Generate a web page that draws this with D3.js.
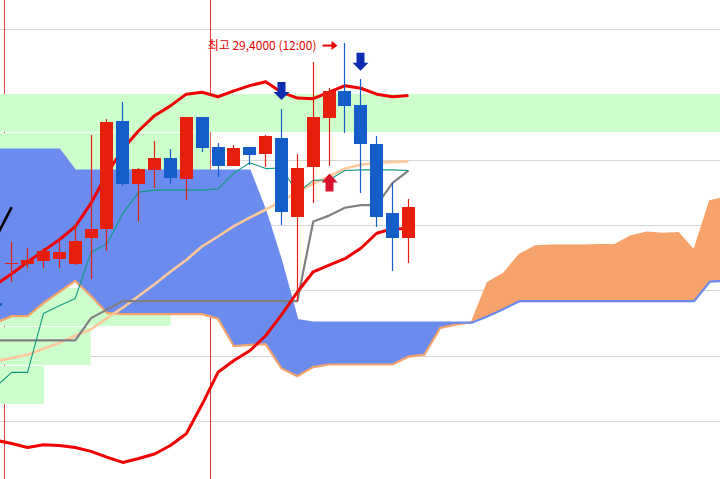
<!DOCTYPE html>
<html><head><meta charset="utf-8">
<script src="https://cdn.jsdelivr.net/npm/d3@7"></script>
<style>html,body{margin:0;padding:0;background:#fff;overflow:hidden}</style>
</head><body><svg id="c" width="720" height="479"></svg>
<script>
// ---- Data (candle index -1 .. 25; red = up, blue = down) ----
const firstIndex = -1;
const opens  = [29001,29062,29061,29066,29068,29061,29100,29115,29280,29183,29205,29223,29191,29286,29240,29211,29240,29230,29254,29133,29210,29285,29326,29304,29245,29139,29101];
const highs  = [29004,29094,29085,29085,29101,29121,29258,29283,29309,29208,29249,29237,29286,29286,29246,29243,29240,29258,29299,29229,29370,29330,29400,29344,29257,29185,29160];
const lows   = [28994,29033,29055,29054,29054,29059,29038,29081,29180,29126,29177,29183,29159,29232,29194,29211,29213,29210,29121,29004,29154,29211,29262,29169,29118,29050,29062];
const closes = [28997,29062,29067,29081,29079,29096,29115,29278,29183,29206,29223,29193,29286,29239,29211,29239,29228,29257,29140,29208,29286,29326,29303,29244,29133,29101,29148];

// Bollinger bands / moving average / Ichimoku lines (index -1 .. 25)
const upperBand = [29029,29046,29064,29081,29098,29118,29154,29199,29237,29265,29288,29303,29321,29324,29317,29326,29334,29340,29324,29315,29314,29324,29334,29330,29321,29317,29319];
const lowerBand = [28791,28786,28780,28784,28783,28780,28774,28765,28757,28763,28770,28783,28801,28846,28895,28913,28928,28951,28983,29018,29049,29059,29069,29085,29108,29115,29115];
const maLine    = [28912,28917,28922,28931,28940,28951,28961,28978,28994,29012,29030,29049,29067,29088,29103,29119,29132,29144,29157,29171,29184,29195,29207,29213,29216,29217,29218];
const convLine  = [28873,28895,28895,28985,28997,29008,29079,29092,29138,29171,29174,29174,29174,29174,29176,29200,29216,29207,29208,29170,29189,29190,29204,29205,29205,29205,29204];
const baseLine  = [28944,28944,28944,28944,28944,28944,28978,28991,29004,29004,29004,29004,29004,29004,29004,29004,29004,29004,29004,29004,29126,29135,29147,29151,29151,29185,29204];
const lagShift = 25;

// Leading spans (index -1 .. 45)
const spanA = [29236,29236,29236,29236,29236,29204,29204,29204,29204,29204,29204,29204,29204,29204,29204,29204,29204,29141,29064,28975,28971,28971,28971,28971,28971,28971,28971,28971,28971,28971,28971,28981,28992,29004,29004,29004,29004,29004,29004,29004,29004,29004,29004,29004,29004,29034,29035];
const spanB = [28971,28981,28981,29001,29018,29035,29012,28986,28984,28984,28984,28984,28984,28984,28977,28935,28937,28938,28901,28889,28903,28907,28907,28907,28907,28907,28919,28922,28963,28968,28972,29032,29046,29075,29088,29089,29089,29089,29090,29090,29103,29109,29107,29108,29081,29157,29162];

// Volume profile (top band first), relative volume
const profileTop = 29321, profileBottom = 28845;
const profileVolumes = [100, 29.2, 22, 15, 6, 23.7, 12.6, 6.1];

const gridPrices = [29420, 29320, 29220, 29120, 29020, 28920, 28820];
const dayBreaks = [-0.5, 12.5];
const sellSignals = [17, 22];
const buySignals = [20];
const highIndex = 21;
const highLabel = "최고 29,4000 (12:00)";

// ---- Drawing ----
const W = 720, H = 479;
const svg = d3.select("#c");
const x = d3.scaleLinear().domain([-0.737, 44.63]).range([0, W]);
const y = d3.scaleLinear().domain([29420, 28820]).range([29.5, 421.3]);
const pv = d3.scaleLinear().domain([0, 100]).range([0, W]);
const crisp = v => Math.floor(v) + 0.5;
const series = (arr, start) => arr.map((v, k) => ({i: start + k, v}));

// gridlines
svg.append("g").selectAll("line").data(gridPrices).join("line")
  .attr("x1", 0).attr("x2", W)
  .attr("y1", d => crisp(y(d))).attr("y2", d => crisp(y(d)))
  .attr("stroke", "#d6d6d6").attr("stroke-width", 1);

// day separators
svg.append("g").selectAll("line").data(dayBreaks).join("line")
  .attr("x1", d => Math.round(x(d)) + 0.5).attr("x2", d => Math.round(x(d)) + 0.5)
  .attr("y1", 0).attr("y2", H)
  .attr("stroke", "#e03c3c").attr("stroke-width", 1);

// volume profile
const step = (profileTop - profileBottom) / profileVolumes.length;
svg.append("g").selectAll("rect").data(profileVolumes).join("rect")
  .attr("x", 0)
  .attr("y", (d, k) => Math.round(y(profileTop - k * step)))
  .attr("width", d => pv(d))
  .attr("height", (d, k) => Math.round(y(profileTop - (k + 1) * step)) - Math.round(y(profileTop - k * step)) - 1)
  .attr("fill", "#ccffcc");

// Ichimoku cloud
const cloud = spanA.map((a, k) => ({i: -1 + k, a, b: spanB[k]}));
const defs = svg.append("defs");
defs.append("clipPath").attr("id", "aboveB").append("path")
  .attr("d", d3.area().x(d => x(d.i)).y0(0).y1(d => y(d.b))(cloud));
defs.append("clipPath").attr("id", "aboveA").append("path")
  .attr("d", d3.area().x(d => x(d.i)).y0(0).y1(d => y(d.a))(cloud));
svg.append("path").attr("clip-path", "url(#aboveB)")
  .attr("d", d3.area().x(d => x(d.i)).y0(d => y(d.a)).y1(H)(cloud))
  .attr("fill", "#6b8cee");
svg.append("path").attr("clip-path", "url(#aboveA)")
  .attr("d", d3.area().x(d => x(d.i)).y0(d => y(d.b)).y1(H)(cloud))
  .attr("fill", "#f5a36b");
const line = d3.line().x(d => x(d.i)).y(d => y(d.v));
svg.append("path").attr("d", line(series(spanB, -1))).attr("fill", "none")
  .attr("stroke", "#f5a36b").attr("stroke-width", 2.2);
svg.append("path").attr("d", line(series(spanA, -1))).attr("fill", "none")
  .attr("stroke", "#6b8cee").attr("stroke-width", 2.2);

// indicator lines
const addLine = (arr, start, color, w) => svg.append("path")
  .attr("d", line(series(arr, start))).attr("fill", "none")
  .attr("stroke", color).attr("stroke-width", w).attr("stroke-linejoin", "round");
addLine(maLine, firstIndex, "#ffc89a", 2.6);
addLine(baseLine, firstIndex, "#808080", 2.2);
addLine(convLine, firstIndex, "#109a80", 1.1);
addLine(closes, firstIndex - lagShift, "#000000", 2.6);
addLine(upperBand, firstIndex, "#f00000", 3);
addLine(lowerBand, firstIndex, "#f00000", 3);

// candles
const candles = opens.map((o, k) => ({i: firstIndex + k, o, h: highs[k], l: lows[k], c: closes[k]}));
const col = d => d.c >= d.o ? "#e61e0c" : "#155dc8";
const cg = svg.append("g");
cg.selectAll("line").data(candles).join("line")
  .attr("x1", d => Math.floor(x(d.i)) + 0.5).attr("x2", d => Math.floor(x(d.i)) + 0.5)
  .attr("y1", d => Math.round(y(d.h))).attr("y2", d => Math.round(y(d.l)))
  .attr("stroke", col).attr("stroke-width", 1.2);
cg.selectAll("rect").data(candles).join("rect")
  .attr("x", d => Math.floor(x(d.i)) - 6)
  .attr("width", 13)
  .attr("y", d => Math.round(y(Math.max(d.o, d.c))))
  .attr("height", d => Math.max(1, Math.round(y(Math.min(d.o, d.c))) - Math.round(y(Math.max(d.o, d.c)))))
  .attr("fill", col);

// signal arrows
const downArrow = (cx, tip) => `M${cx-4},${tip-18}H${cx+4}V${tip-8}H${cx+8}L${cx},${tip}L${cx-8},${tip-8}H${cx-4}Z`;
const upArrow = (cx, tip) => `M${cx-4},${tip+18}H${cx+4}V${tip+9}H${cx+8}L${cx},${tip}L${cx-8},${tip+9}H${cx-4}Z`;
svg.append("g").selectAll("path").data(sellSignals).join("path")
  .attr("d", i => downArrow(Math.floor(x(i)) + 0.5, y(highs[i - firstIndex]) - 8.5))
  .attr("fill", "#0c2db0");
svg.append("g").selectAll("path").data(buySignals).join("path")
  .attr("d", i => upArrow(Math.floor(x(i)) + 0.5, y(lows[i - firstIndex]) + 7.5))
  .attr("fill", "#d8102a");

// high label
const tipX = Math.floor(x(highIndex)) - 6.5;
const ly = y(highs[highIndex - firstIndex]) + 3;
svg.append("path").attr("d", `M${tipX-15},${ly}H${tipX-5}`).attr("stroke", "#e80000").attr("stroke-width", 2);
svg.append("path").attr("d", `M${tipX-6},${ly-4.5}L${tipX},${ly}L${tipX-6},${ly+4.5}Z`).attr("fill", "#e80000");
svg.append("text").attr("x", tipX - 21).attr("y", ly + 4.2)
  .attr("text-anchor", "end")
  .attr("font-family", "'Noto Sans CJK KR', 'Noto Sans', sans-serif")
  .attr("font-size", 12).attr("fill", "#e80000")
  .text(highLabel);
</script>
</body></html>
